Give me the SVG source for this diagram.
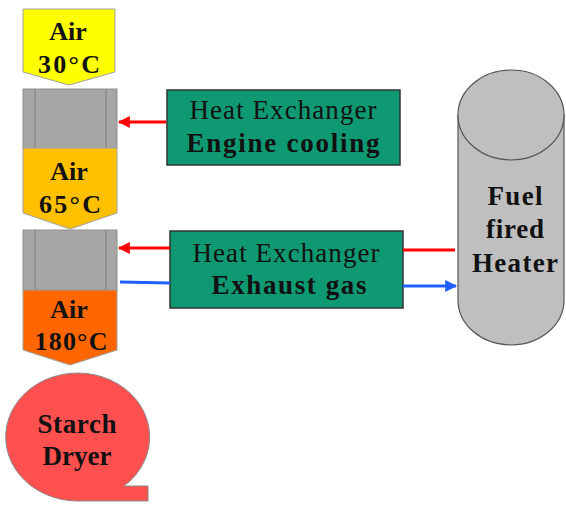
<svg xmlns="http://www.w3.org/2000/svg" width="566" height="507" viewBox="0 0 566 507">
<style>
.t{font-family:"Liberation Serif","Times New Roman",serif;fill:#111;text-anchor:middle}
.b{font-weight:bold}
.air{font-size:26px}
.hx{font-size:27px}
.big{font-size:27px}
.blk{fill:#A6A6A6;stroke:#8F8F8F;stroke-width:1}
.in{stroke:#8A8A8A;stroke-width:1.5}
.gb{fill:#0F9973;stroke:#333;stroke-width:1.5}
.red{stroke:#FF0000;stroke-width:3;fill:none}
.blue{stroke:#1F5FFF;stroke-width:3;fill:none}
</style>
<defs>
<marker id="ar" viewBox="0 0 10 10" refX="9" refY="5" markerWidth="4" markerHeight="4" orient="auto"><path d="M0,0 L10,5 L0,10 Z" fill="#FF0000"/></marker>
<marker id="ab" viewBox="0 0 10 10" refX="9" refY="5" markerWidth="4" markerHeight="4" orient="auto"><path d="M0,0 L10,5 L0,10 Z" fill="#1F5FFF"/></marker>
</defs>
<g id="air30">
<path d="M23 9 H115 V72 L69 85 L23 72 Z" fill="#FFFF00" stroke="#A0A0A0"/>
<text class="t b air" x="68" y="40">Air</text>
<text class="t b air" x="69" y="73" textLength="62">30°C</text>
</g>
<g id="hx-block1">
<rect class="blk" x="23" y="89" width="94" height="60"/>
<line class="in" x1="35" y1="89" x2="35" y2="149"/>
<line class="in" x1="106" y1="89" x2="106" y2="149"/>
</g>
<g id="air65">
<path d="M23 148 H117 V213 L70 229 L23 213 Z" fill="#FFC000" stroke="#A0A0A0"/>
<text class="t b air" x="69" y="180">Air</text>
<text class="t b air" x="70" y="213" textLength="62">65°C</text>
</g>
<g id="hx-block2">
<rect class="blk" x="23" y="230" width="94" height="60"/>
<line class="in" x1="35" y1="230" x2="35" y2="290"/>
<line class="in" x1="106" y1="230" x2="106" y2="290"/>
</g>
<g id="air180">
<path d="M23 290 H117 V350 L70 365 L23 350 Z" fill="#FF6600" stroke="#A0A0A0"/>
<text class="t b air" x="69" y="318">Air</text>
<text class="t b air" x="71" y="350" textLength="73">180°C</text>
</g>
<g id="dryer">
<path d="M77 501 A72 64 0 1 1 124 486 L148 486 L148 501 Z" fill="#FF5050" stroke="#8A8A8A"/>
<text class="t b big" x="77" y="433" textLength="79">Starch</text>
<text class="t b big" x="77" y="465" textLength="69">Dryer</text>
</g>
<g id="hx-engine">
<rect class="gb" x="167" y="90" width="233" height="75"/>
<text class="t hx" x="283" y="119" textLength="187">Heat Exchanger</text>
<text class="t b hx" x="283" y="152" textLength="193">Engine cooling</text>
</g>
<g id="hx-exhaust">
<rect class="gb" x="170" y="231" width="233" height="77"/>
<text class="t hx" x="286" y="262" textLength="187">Heat Exchanger</text>
<text class="t b hx" x="289" y="294" textLength="155">Exhaust gas</text>
</g>
<g id="heater">
<path d="M458 115 V300 A53 45 0 0 0 564 300 V115 Z" fill="#BFBFBF" stroke="#555" stroke-width="1.2"/>
<ellipse cx="511" cy="115" rx="53" ry="45" fill="#BFBFBF" stroke="#555" stroke-width="1.2"/>
<text class="t b big" x="515" y="205" textLength="55">Fuel</text>
<text class="t b big" x="515" y="238" textLength="58">fired</text>
<text class="t b big" x="515" y="272" textLength="86">Heater</text>
</g>
<g id="connectors">
<line class="red" x1="166" y1="122" x2="119" y2="122" marker-end="url(#ar)"/>
<line class="red" x1="170" y1="248" x2="119" y2="248" marker-end="url(#ar)"/>
<line class="blue" x1="120" y1="282" x2="170" y2="283"/>
<line class="red" x1="403" y1="250" x2="455" y2="250"/>
<line class="blue" x1="403" y1="286" x2="456" y2="286" marker-end="url(#ab)"/>
</g>
</svg>
